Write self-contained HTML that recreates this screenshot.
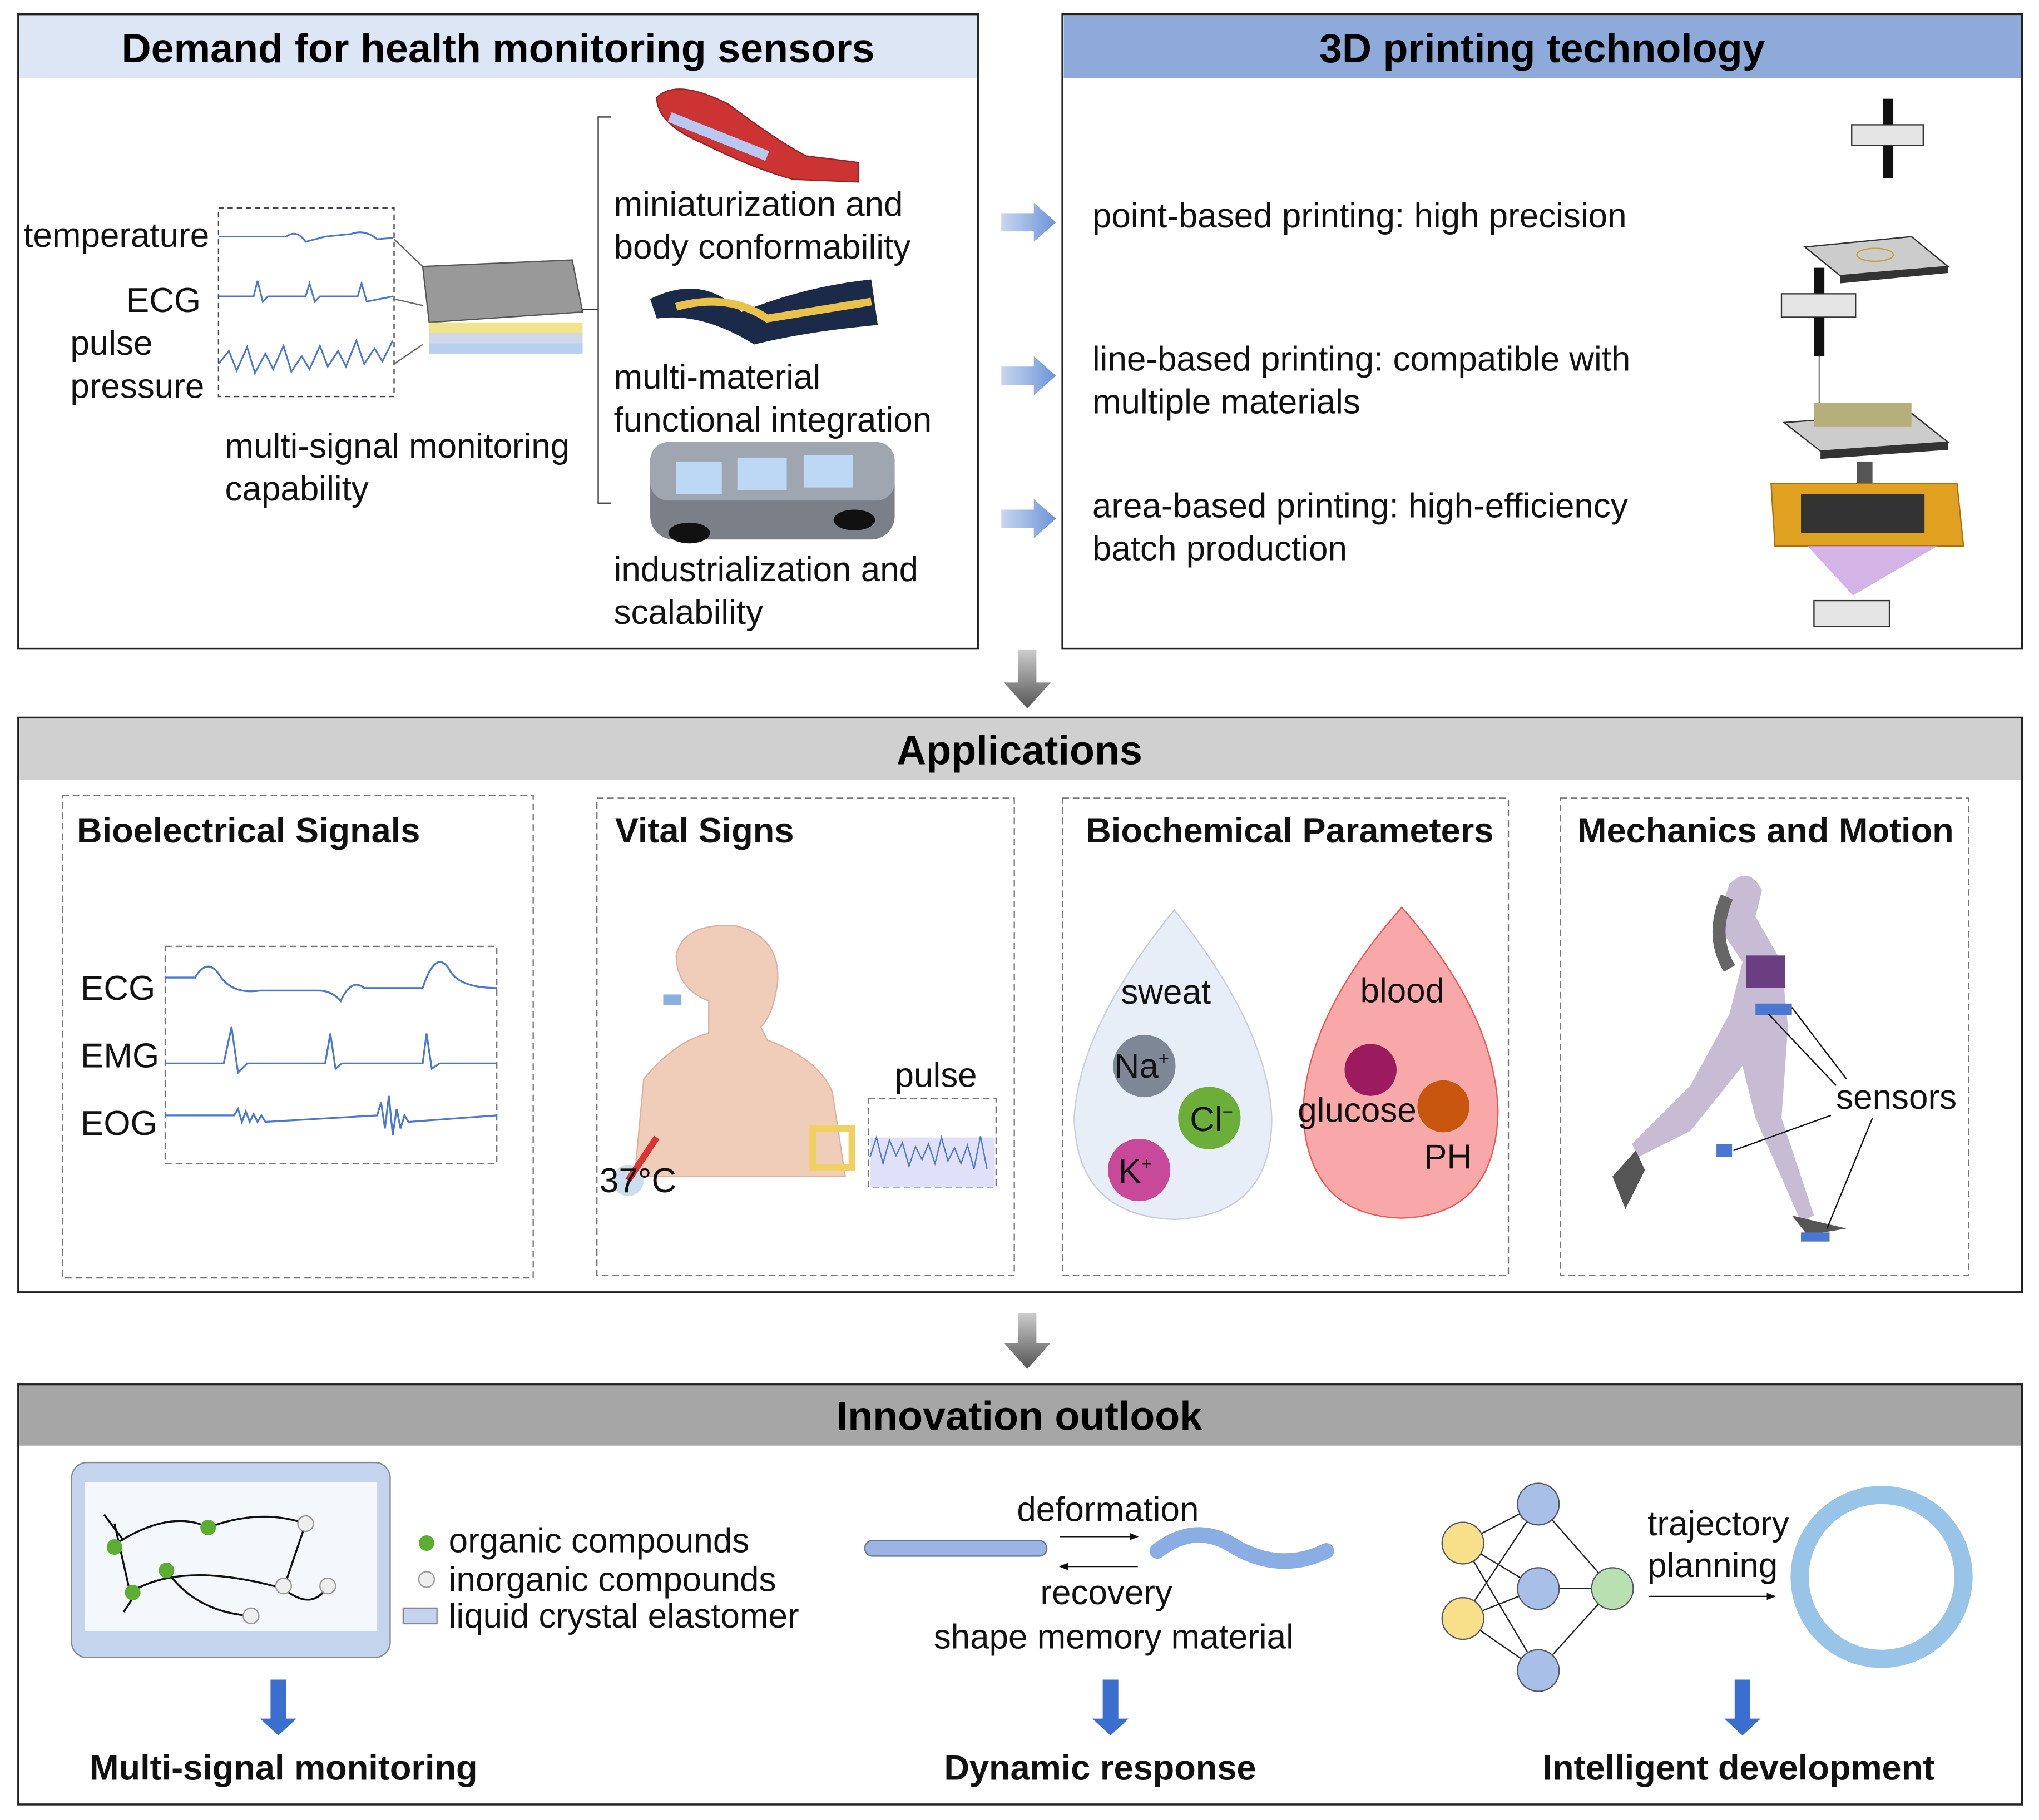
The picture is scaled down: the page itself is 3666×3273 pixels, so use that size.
<!DOCTYPE html>
<html><head><meta charset="utf-8"><style>html,body{margin:0;padding:0;background:#fff}svg{display:block}</style></head>
<body>
<svg width="3666" height="3273" viewBox="0 0 1568 1400" xmlns="http://www.w3.org/2000/svg" font-family="Liberation Sans, sans-serif">
<defs>
<linearGradient id="ga" x1="0" x2="0" y1="0" y2="1"><stop offset="0" stop-color="#ccc"/><stop offset="1" stop-color="#555"/></linearGradient>
<linearGradient id="gb" x1="0" x2="1"><stop offset="0" stop-color="#c9d7f0"/><stop offset="1" stop-color="#6d94d8"/></linearGradient>
<marker id="ah" viewBox="0 0 10 10" refX="9" refY="5" markerWidth="7" markerHeight="7" orient="auto"><path d="M0 1 L10 5 L0 9Z" fill="#111"/></marker>
</defs>
<rect width="1568" height="1400" fill="#fff"/>
<!-- top-left -->
<rect x="14" y="11" width="738" height="488" fill="#fff" stroke="#222" stroke-width="1.5"/>
<rect x="15" y="12" width="736" height="48" fill="#dce6f4"/>
<text x="383" y="48" font-size="31.5" font-weight="bold" text-anchor="middle">Demand for health monitoring sensors</text>
<g font-size="26.5" fill="#111">
<text x="18" y="190">temperature</text>
<text x="97" y="240">ECG</text>
<text x="54" y="273">pulse</text>
<text x="54" y="306">pressure</text>
<text x="173" y="352">multi-signal monitoring</text>
<text x="173" y="385">capability</text>
<text x="472" y="166">miniaturization and</text>
<text x="472" y="199">body conformability</text>
<text x="472" y="299">multi-material</text>
<text x="472" y="332">functional integration</text>
<text x="472" y="447">industrialization and</text>
<text x="472" y="480">scalability</text>
</g>
<rect x="168" y="160" width="135" height="145" fill="none" stroke="#445" stroke-dasharray="4,3"/>
<g fill="none" stroke="#4a78d0" stroke-width="1.3">
<path d="M168 182 L220 182 Q228 176 235 186 L250 182 L270 180 Q280 176 290 184 L302 183"/>
<path d="M168 228 L195 228 L198 216 L202 232 L206 228 L235 228 L238 218 L242 232 L246 228 L275 228 L278 218 L282 232 L302 228"/>
<path d="M168 280 l8 -10 l6 15 l8 -18 l6 20 l8 -15 l6 12 l8 -18 l6 20 l8 -12 l6 10 l8 -18 l6 16 l8 -12 l6 12 l8 -20 l6 18 l8 -12 l6 10 l8 -16"/>
</g>
<path d="M303 184 L325 205 M303 230 L325 235 M303 280 L325 265" stroke="#666" fill="none"/>
<g>
<polygon points="325,205 440,200 448,240 330,248" fill="#999" stroke="#555"/>
<rect x="330" y="248" width="118" height="8" fill="#f2e28a"/>
<rect x="330" y="256" width="118" height="8" fill="#cfd8e8"/>
<rect x="330" y="264" width="118" height="8" fill="#b8cff0"/>
</g>
<path d="M470 90 L460 90 L460 387 L470 387 M448 238 L460 238" stroke="#333" fill="none"/>
<path d="M505 75 Q520 60 560 80 Q600 110 620 120 L660 125 L660 140 L610 138 Q580 130 540 110 Q505 95 505 75Z" fill="#c33" stroke="#922"/>
<path d="M515 90 L590 120" stroke="#b8c8f0" stroke-width="8"/>
<path d="M500 230 Q540 210 570 240 Q620 220 670 215 L675 250 Q620 255 580 265 Q540 240 505 245Z" fill="#1c2a4a"/>
<path d="M520 236 Q560 225 590 245 L670 232" stroke="#e8c24a" stroke-width="6" fill="none"/>
<rect x="500" y="340" width="188" height="75" rx="18" fill="#7a7f88"/>
<rect x="500" y="340" width="188" height="45" rx="14" fill="#a0a6b0"/>
<rect x="520" y="355" width="35" height="25" fill="#bcd8f5"/>
<rect x="567" y="352" width="38" height="25" fill="#bcd8f5"/>
<rect x="618" y="350" width="38" height="25" fill="#bcd8f5"/>
<ellipse cx="530" cy="410" rx="16" ry="8" fill="#111"/><ellipse cx="657" cy="400" rx="16" ry="8" fill="#111"/>
<!-- blue arrows -->
<g fill="url(#gb)">
<polygon points="770,164 795,164 795,156 812,171 795,186 795,178 770,178"/>
<polygon points="770,282 795,282 795,274 812,289 795,304 795,296 770,296"/>
<polygon points="770,392 795,392 795,384 812,399 795,414 795,406 770,406"/>
</g>
<!-- top-right -->
<rect x="817" y="11" width="738" height="488" fill="#fff" stroke="#222" stroke-width="1.5"/>
<rect x="818" y="12" width="736" height="48" fill="#8eaadb"/>
<text x="1186" y="48" font-size="31.5" font-weight="bold" text-anchor="middle">3D printing technology</text>
<g font-size="26.5" fill="#111">
<text x="840" y="175">point-based printing: high precision</text>
<text x="840" y="285">line-based printing: compatible with</text>
<text x="840" y="318">multiple materials</text>
<text x="840" y="398">area-based printing: high-efficiency</text>
<text x="840" y="431">batch production</text>
</g>
<rect x="1448" y="76" width="8" height="20" fill="#111"/><rect x="1424" y="96" width="55" height="16" fill="#e5e5e5" stroke="#333"/><rect x="1448" y="112" width="8" height="25" fill="#111"/>
<polygon points="1388,190 1470,182 1498,205 1415,212" fill="#ccc" stroke="#333"/><polygon points="1415,212 1498,205 1498,210 1415,218" fill="#333"/>
<ellipse cx="1442" cy="196" rx="14" ry="5" fill="none" stroke="#c9a030"/>
<rect x="1395" y="206" width="8" height="20" fill="#111"/><rect x="1370" y="226" width="57" height="18" fill="#e5e5e5" stroke="#333"/><rect x="1395" y="244" width="8" height="30" fill="#111"/><line x1="1399" y1="274" x2="1399" y2="312" stroke="#888"/>
<polygon points="1372,325 1470,318 1498,340 1400,347" fill="#ccc" stroke="#333"/><polygon points="1400,347 1498,340 1498,346 1400,353" fill="#333"/>
<rect x="1395" y="310" width="75" height="18" fill="#b5b07a"/>
<rect x="1428" y="355" width="12" height="20" fill="#555"/>
<polygon points="1362,372 1505,372 1510,420 1365,420" fill="#e0a020" stroke="#a87010"/>
<polygon points="1385,380 1480,380 1480,410 1385,410" fill="#333"/>
<polygon points="1390,420 1490,420 1425,458" fill="#c9a0e0" opacity="0.8"/>
<rect x="1395" y="462" width="58" height="20" fill="#e5e5e5" stroke="#333"/>
<!-- down arrows -->
<polygon points="783,500 797,500 797,525 808,525 790,545 772,525 783,525" fill="url(#ga)"/>
<polygon points="783,1010 797,1010 797,1033 808,1033 790,1053 772,1033 783,1033" fill="url(#ga)"/>
<!-- Applications -->
<rect x="14" y="552" width="1541" height="442" fill="#fff" stroke="#222" stroke-width="1.5"/>
<rect x="15" y="553" width="1539" height="47" fill="#d0d0d0"/>
<text x="784" y="588" font-size="31.5" font-weight="bold" text-anchor="middle">Applications</text>
<g fill="none" stroke="#777" stroke-dasharray="5,3">
<rect x="48" y="612" width="362" height="371"/>
<rect x="459" y="614" width="321" height="367"/>
<rect x="817" y="614" width="343" height="367"/>
<rect x="1200" y="614" width="314" height="367"/>
<rect x="127" y="728" width="255" height="167"/>
<rect x="668" y="845" width="98" height="68"/>
</g>
<g font-size="27" font-weight="bold" fill="#111">
<text x="59" y="648">Bioelectrical Signals</text>
<text x="473" y="648">Vital Signs</text>
<text x="835" y="648">Biochemical Parameters</text>
<text x="1213" y="648">Mechanics and Motion</text>
</g>
<g font-size="26.5" fill="#111">
<text x="62" y="769">ECG</text><text x="62" y="821">EMG</text><text x="62" y="873">EOG</text>
</g>
<g fill="none" stroke="#4a78d0" stroke-width="1.4">
<path d="M127 752 L150 752 Q160 735 170 752 Q180 765 200 762 L245 762 Q255 762 262 770 Q270 752 280 760 L325 760 Q335 730 345 745 Q352 760 382 760"/>
<path d="M127 818 L172 818 L178 790 L183 825 L190 818 L250 818 L254 795 L258 822 L263 818 L325 818 L328 795 L332 822 L338 818 L382 818"/>
<path d="M127 858 L180 858 l3 -5 l3 10 l3 -8 l3 8 l3 -6 l3 6 l3 -5 l3 5 L290 858 l3 -10 l3 20 l3 -25 l3 30 l3 -20 l3 15 l3 -10 l3 5 L382 858"/>
</g>
<!-- person -->
<path d="M488 905 L495 830 Q520 800 545 795 L545 770 Q520 760 520 735 Q525 710 565 712 Q600 720 598 755 Q595 780 585 790 L590 800 Q630 815 640 840 L650 905Z" fill="#f0cdb8" stroke="#e0b0a0"/>
<rect x="510" y="765" width="14" height="8" fill="#8ab0e0"/>
<circle cx="483" cy="908" r="12" fill="#cde"/><line x1="483" y1="908" x2="505" y2="875" stroke="#d33" stroke-width="5"/>
<rect x="625" y="868" width="30" height="30" fill="none" stroke="#f0d060" stroke-width="5"/>
<rect x="669" y="875" width="96" height="38" fill="#e0e0f8"/>
<path d="M669 890 l5 -15 l5 20 l5 -18 l5 12 l5 -10 l5 18 l5 -15 l5 10 l5 -12 l5 15 l5 -20 l5 18 l5 -10 l5 12 l5 -14 l5 18 l5 -25 l5 25" fill="none" stroke="#4a78d0"/>
<g font-size="26.5" fill="#111"><text x="461" y="917">37°C</text><text x="688" y="836">pulse</text></g>
<!-- drops -->
<path d="M903 700 Q975 790 978 860 Q978 935 903 938 Q828 935 826 860 Q830 790 903 700Z" fill="#e8eef8" stroke="#ccd"/>
<path d="M1078 698 Q1150 780 1152 855 Q1150 935 1078 937 Q1005 935 1002 855 Q1005 780 1078 698Z" fill="#f8a8a8" stroke="#e55"/>
<circle cx="880" cy="820" r="24" fill="#7d8796"/><circle cx="930" cy="860" r="24" fill="#6cae3a"/><circle cx="876" cy="900" r="24" fill="#c8489a"/>
<circle cx="1054" cy="823" r="20" fill="#9c1a5e"/><circle cx="1110" cy="851" r="20" fill="#c8560e"/>
<g font-size="26.5" fill="#111">
<text x="862" y="772">sweat</text><text x="1046" y="771">blood</text>
<text x="857" y="829">Na<tspan font-size="14" dy="-10">+</tspan></text>
<text x="915" y="870">Cl<tspan font-size="14" dy="-10">−</tspan></text>
<text x="860" y="910">K<tspan font-size="14" dy="-10">+</tspan></text>
<text x="998" y="863">glucose</text><text x="1095" y="899">PH</text>
<text x="1412" y="853">sensors</text>
</g>
<!-- runner -->
<path d="M1330 680 Q1345 665 1355 685 L1350 705 L1370 740 L1375 790 L1370 860 L1395 935 L1385 940 L1350 860 L1340 820 L1300 870 L1260 890 L1255 880 L1300 835 L1330 780 L1340 740 L1320 710Z" fill="#c7bcd4"/>
<path d="M1328 690 Q1315 720 1330 745" stroke="#666" stroke-width="10" fill="none"/>
<path d="M1240 905 L1258 885 L1265 900 L1250 930Z" fill="#555"/><path d="M1378 935 L1420 945 L1390 950Z" fill="#555"/>
<rect x="1343" y="735" width="30" height="25" fill="#6a3e80"/>
<rect x="1350" y="772" width="28" height="9" fill="#4a78d0"/><rect x="1320" y="880" width="12" height="10" fill="#4a78d0"/><rect x="1385" y="948" width="22" height="7" fill="#4a78d0"/>
<g stroke="#111" fill="none"><path d="M1360 780 L1412 835 M1378 775 L1420 830 M1333 885 L1408 858 M1405 945 L1440 860"/></g>
<!-- Innovation -->
<rect x="14" y="1065" width="1541" height="323" fill="#fff" stroke="#222" stroke-width="1.5"/>
<rect x="15" y="1066" width="1539" height="46" fill="#a6a6a6"/>
<text x="784" y="1100" font-size="31.5" font-weight="bold" text-anchor="middle">Innovation outlook</text>
<rect x="55" y="1125" width="245" height="150" rx="12" fill="#c4d4ec" stroke="#889"/>
<rect x="65" y="1140" width="225" height="115" fill="#f4f7fc"/>
<g stroke="#111" fill="none" stroke-width="1.5"><path d="M85 1190 Q130 1160 160 1175 Q200 1160 235 1172 M100 1225 Q140 1200 218 1222 Q240 1240 252 1220 M128 1208 Q150 1240 193 1243 M88 1172 L100 1225 M235 1172 L218 1222 M80 1165 L95 1185 M95 1240 L105 1225"/></g>
<g fill="#5cae30"><circle cx="88" cy="1190" r="6"/><circle cx="128" cy="1208" r="6"/><circle cx="160" cy="1175" r="6"/><circle cx="102" cy="1225" r="6"/></g>
<g fill="#eee" stroke="#999"><circle cx="235" cy="1172" r="6"/><circle cx="218" cy="1220" r="6"/><circle cx="252" cy="1220" r="6"/><circle cx="193" cy="1243" r="6"/></g>
<circle cx="328" cy="1187" r="6" fill="#5cae30"/><circle cx="328" cy="1215" r="6" fill="#eee" stroke="#999"/><rect x="310" y="1237" width="26" height="12" fill="#c4d4ec" stroke="#889"/>
<g font-size="26.5" fill="#111">
<text x="345" y="1194">organic compounds</text><text x="345" y="1224">inorganic compounds</text><text x="345" y="1252">liquid crystal elastomer</text>
<text x="782" y="1170">deformation</text><text x="800" y="1234">recovery</text><text x="718" y="1268">shape memory material</text>
<text x="1267" y="1181">trajectory</text><text x="1267" y="1213">planning</text>
</g>
<rect x="665" y="1185" width="140" height="12" rx="6" fill="#9ab4e4" stroke="#678"/>
<path d="M890 1193 Q920 1170 950 1190 Q985 1210 1020 1193" stroke="#8aaee4" stroke-width="12" fill="none" stroke-linecap="round"/>
<g stroke="#111"><line x1="815" y1="1182" x2="875" y2="1182" marker-end="url(#ah)"/><line x1="875" y1="1205" x2="815" y2="1205" marker-end="url(#ah)"/><line x1="1268" y1="1228" x2="1365" y2="1228" marker-end="url(#ah)"/></g>
<g stroke="#222" fill="none"><path d="M1125 1187 L1183 1157 M1125 1187 L1183 1222 M1125 1187 L1183 1285 M1125 1245 L1183 1157 M1125 1245 L1183 1222 M1125 1245 L1183 1285 M1183 1157 L1240 1222 M1183 1222 L1240 1222 M1183 1285 L1240 1222"/></g>
<g stroke="#556"><circle cx="1125" cy="1187" r="16" fill="#f8e08a"/><circle cx="1125" cy="1245" r="16" fill="#f8e08a"/>
<circle cx="1183" cy="1157" r="16" fill="#a8c0e8"/><circle cx="1183" cy="1222" r="16" fill="#a8c0e8"/><circle cx="1183" cy="1285" r="16" fill="#a8c0e8"/><circle cx="1240" cy="1222" r="16" fill="#b8e0b0"/></g>
<circle cx="1447" cy="1213" r="63" fill="none" stroke="#98c4e8" stroke-width="14"/>
<g fill="#3a6fd0">
<polygon points="208,1292 220,1292 220,1322 228,1322 214,1335 200,1322 208,1322"/>
<polygon points="848,1292 860,1292 860,1322 868,1322 854,1335 840,1322 848,1322"/>
<polygon points="1334,1292 1346,1292 1346,1322 1354,1322 1340,1335 1326,1322 1334,1322"/>
</g>
<g font-size="27" font-weight="bold" fill="#111" text-anchor="middle">
<text x="218" y="1369">Multi-signal monitoring</text><text x="846" y="1369">Dynamic response</text><text x="1337" y="1369">Intelligent development</text>
</g>
</svg>
</body></html>
